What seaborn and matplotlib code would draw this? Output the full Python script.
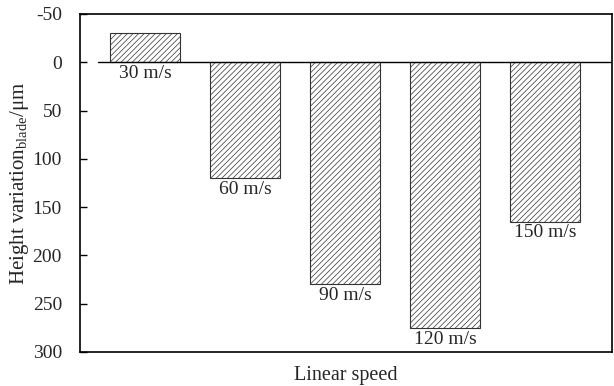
import matplotlib
matplotlib.use("Agg")
import matplotlib.pyplot as plt
import seaborn as sns
import pandas as pd

speeds = ["30 m/s", "60 m/s", "90 m/s", "120 m/s", "150 m/s"]
height_variation = [-30, 120, 230, 275, 165]
y_ticks = [-50, 0, 50, 100, 150, 200, 250, 300]

sns.set_theme(style="white")
plt.rcParams['font.family'] = ['Liberation Serif', 'DejaVu Serif']
plt.rcParams['mathtext.fontset'] = 'custom'
plt.rcParams['mathtext.rm'] = 'Liberation Serif'
plt.rcParams['hatch.color'] = '#a5a5a5'
plt.rcParams['hatch.linewidth'] = 0.5

df = pd.DataFrame({"speed": speeds, "value": height_variation})

fig = plt.figure(figsize=(6.14, 3.86), dpi=100)
ax = fig.add_axes([80/614, 1-352/386, 532/614, 338/386])

sns.barplot(data=df, x="speed", y="value", order=speeds, color="white",
            edgecolor="black", linewidth=0.8, width=0.7, ax=ax, saturation=1)
for p in ax.patches:
    p.set_hatch("//////")
    p.set_facecolor("white")
    p.set_edgecolor("#333333")

ax.set_xlim(-0.65, 4.67)
ax.set_ylim(300, -50)
ax.set_yticks(y_ticks)
ax.set_yticklabels([str(t) for t in y_ticks], fontsize=14)
ax.tick_params(axis="y", direction="in", length=5, width=1, color="black", pad=13, left=True)
ax.set_xticks([])
ax.axhline(0, xmin=18/532, xmax=1, color="black", linewidth=1)

for i, (s, v) in enumerate(zip(speeds, height_variation)):
    base = max(v, 0)
    ax.annotate(s, (i, base), xytext=(0, -2), textcoords="offset points",
                ha="center", va="top", fontsize=14)

for sp in ax.spines.values():
    sp.set_color("black")
    sp.set_linewidth(1.2)
    sp.set_visible(True)

ax.set_xlabel("Linear speed", fontsize=14.5, labelpad=10)
ax.set_ylabel("Height variation$_{\\mathregular{blade}}$/\u03bcm", fontsize=15, labelpad=1)

fig.savefig("out.png", dpi=100)
